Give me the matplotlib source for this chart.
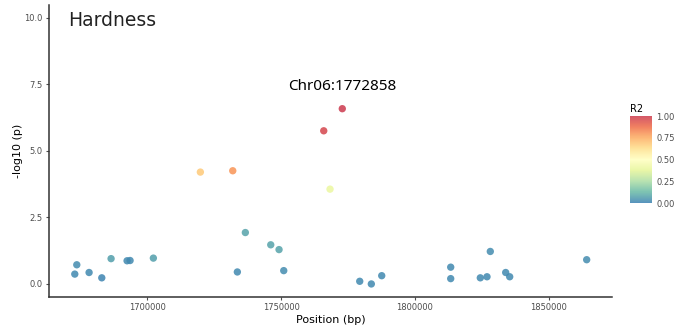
import numpy as np
import matplotlib.pyplot as plt
from matplotlib.colors import LinearSegmentedColormap

# SNP positions (bp), association strength and LD with the lead SNP
positions = [1673022, 1673769, 1678358, 1683097, 1686567, 1692537, 1693657,
             1702351, 1719888, 1731978, 1733694, 1736679, 1746157, 1749254,
             1751007, 1765933, 1768284, 1772858, 1779366, 1783694, 1787575,
             1813321, 1813321, 1824366, 1826866, 1828097, 1833843, 1835336,
             1864067]
logp = [0.37, 0.72, 0.43, 0.23, 0.95, 0.87, 0.88,
        0.97, 4.20, 4.25, 0.45, 1.93, 1.47, 1.29,
        0.50, 5.75, 3.56, 6.58, 0.10, 0.00, 0.31,
        0.63, 0.20, 0.23, 0.27, 1.22, 0.43, 0.27,
        0.91]
r2 = [0.02, 0.03, 0.02, 0.01, 0.07, 0.02, 0.02,
      0.07, 0.68, 0.80, 0.02, 0.08, 0.08, 0.08,
      0.03, 0.97, 0.40, 1.00, 0.02, 0.02, 0.02,
      0.02, 0.02, 0.02, 0.02, 0.03, 0.02, 0.02,
      0.03]
lead_label = "Chr06:1772858"
lead_pos, lead_logp = 1772858, 6.58

x_ticks = [1700000, 1750000, 1800000, 1850000]
y_ticks = [0.0, 2.5, 5.0, 7.5, 10.0]

spectral = ["#3a80b2", "#66b8a5", "#abdda4", "#e6f598", "#ffffbf",
            "#fee08b", "#fdae61", "#f06c45", "#cc3a4e"]
cmap = LinearSegmentedColormap.from_list("ld", spectral)


def main() -> None:
    fig = plt.figure(figsize=(6.75, 3.28), dpi=100)
    ax = fig.add_axes([0.0726, 0.0945, 0.834, 0.89])

    sc = ax.scatter(positions, logp, c=r2, cmap=cmap, vmin=0, vmax=1,
                    s=28, alpha=0.85, linewidths=0, zorder=3)

    ax.set_xlim(1663400, 1873500)
    ax.set_ylim(-0.49, 10.47)
    ax.set_xticks(x_ticks)
    ax.set_xticklabels([str(t) for t in x_ticks])
    ax.set_yticks(y_ticks)
    ax.set_yticklabels([f"{t:.1f}" for t in y_ticks])

    for side in ["top", "right"]:
        ax.spines[side].set_visible(False)
    for side in ["left", "bottom"]:
        ax.spines[side].set_color("#333333")
        ax.spines[side].set_linewidth(1.1)
    ax.tick_params(colors="#4d4d4d", labelsize=6, length=2.5, width=0.8,
                   pad=2)

    ax.set_xlabel("Position (bp)", fontsize=8, color="black", labelpad=2)
    ax.set_ylabel("-log10 (p)", fontsize=8, color="black", labelpad=1)

    ax.text(1670500, 9.9, "Hardness", fontsize=13.5, color="#222222",
            va="center", ha="left")
    ax.text(lead_pos, 7.42, lead_label, fontsize=11, family="Noto Sans",
            ha="center", va="center", color="black")

    # R2 colour bar
    cax = fig.add_axes([0.933, 0.381, 0.033, 0.265])
    cb = fig.colorbar(sc, cax=cax, ticks=[0, 0.25, 0.5, 0.75, 1.0])
    cb.solids.set_alpha(0.85)
    cb.outline.set_visible(False)
    cb.ax.set_yticklabels(["0.00", "0.25", "0.50", "0.75", "1.00"])
    cb.ax.tick_params(labelsize=6, colors="#4d4d4d", length=0, pad=3)
    cax.set_title("R2", fontsize=7, loc="left", pad=3)

    fig.savefig("out.png", dpi=100)


if __name__ == "__main__":
    main()
